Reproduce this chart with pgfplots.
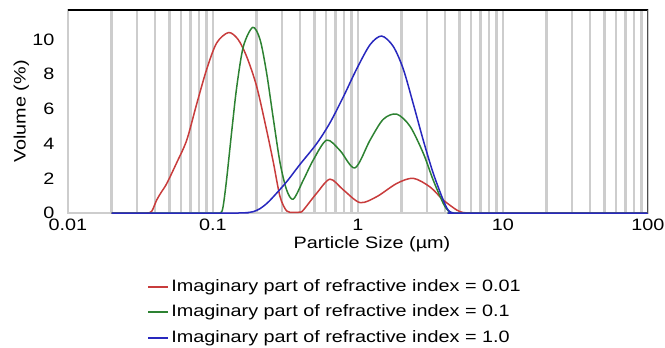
\documentclass[border=0pt]{standalone}
\usepackage{pgfplots}
\pgfplotsset{compat=1.18}
\usepackage{fontspec}
\setmainfont{Liberation Sans}[FakeStretch=1.2]
\definecolor{cred}{RGB}{200,60,60}
\definecolor{cgreen}{RGB}{45,130,50}
\definecolor{cblue}{RGB}{40,40,190}
\definecolor{cgrid}{RGB}{205,205,205}
\begin{document}
\fontsize{16.5}{19}\selectfont
\begin{tikzpicture}
\useasboundingbox (-68pt,-135pt) rectangle (597pt,213pt);
\begin{axis}[
  scale only axis, width=580pt, height=203pt,
  xmode=log, xmin=0.01, xmax=100, ymin=0, ymax=11.7,
  xtick={0.01,0.1,1,10,100},
  xticklabels={0.01,0.1,1,10,100},
  ytick={0,2,4,6,8,10},
  major tick length=0pt, minor tick length=0pt,
  xmajorgrids, xminorgrids,
  grid style={cgrid, line width=2.4pt},
  major grid style={cgrid, line width=2.4pt},
  minor grid style={cgrid, line width=2.4pt},
  axis line style={draw=cgrid, line width=1.5pt},
  tick label style={font=\fontsize{16.5}{19}\selectfont},
  yticklabel style={xshift=-8pt},
  /pgf/number format/assume math mode=true,
  xlabel={Particle Size (µm)},
  ylabel={Volume (\%)},
  label style={font=\fontsize{16.5}{19}\selectfont},
  xlabel style={yshift=5pt, xshift=14pt},
  ylabel style={yshift=-8pt},
  legend style={at={(0.136,-0.317)}, anchor=north west, draw=none, fill=none,
    font=\fontsize{16.5}{19}\selectfont, row sep=7pt, inner sep=0pt},
  legend cell align=left,
  legend image code/.code={\draw[#1, line width=2.2pt] (0pt,0pt) -- (20pt,0pt);},
]
\addplot[cred, line width=1.5pt, smooth, tension=0.5] coordinates {
(0.020,0) (0.030,0) (0.035,0) (0.0378,0.1) (0.0409,0.75) (0.044,1.2) (0.048,1.7) (0.0562,2.9) (0.0659,4.2)
(0.0773,6.3) (0.0906,8.3) (0.106,9.8) (0.128,10.4) (0.149,10.0) (0.171,9.0)
(0.200,7.3) (0.234,4.8) (0.261,2.9) (0.290,0.94) (0.322,0.12) (0.358,0.04)
(0.398,0.05) (0.420,0.17) (0.519,1.14) (0.641,1.95) (0.793,1.33) (1.032,0.6)
(1.346,0.94) (1.848,1.7) (2.404,2.0) (3.14,1.5) (3.87,0.75) (4.80,0.17) (5.3,0.03)
(5.92,0) (7,0) (100,0)};
\addlegendentry{Imaginary part of refractive index = 0.01}
\addplot[cgreen, line width=1.5pt, smooth, tension=0.5] coordinates {
(0.020,0) (0.10,0) (0.112,0) (0.117,0.3) (0.124,1.9) (0.135,4.8) (0.146,7.3) (0.162,9.6)
(0.188,10.7) (0.211,10.0) (0.234,8.1) (0.261,5.4) (0.290,2.9) (0.322,1.33)
(0.358,0.8) (0.420,1.9) (0.492,3.06) (0.608,4.2) (0.752,3.6) (0.953,2.6)
(1.211,4.2) (1.494,5.4) (1.848,5.7) (2.284,5.0) (2.818,3.45) (3.30,1.9)
(3.87,0.56) (4.2,0.12) (4.54,0) (5.2,0) (100,0)};
\addlegendentry{Imaginary part of refractive index = 0.1}
\addplot[cblue, line width=1.5pt, smooth, tension=0.5] coordinates {
(0.020,0) (0.150,0) (0.17,0.02) (0.19,0.08) (0.211,0.25) (0.235,0.55) (0.261,0.94) (0.322,1.8) (0.398,2.8)
(0.519,4.0) (0.641,5.2) (0.793,6.7) (0.979,8.3) (1.211,9.7) (1.456,10.2)
(1.751,9.6) (2.052,8.3) (2.404,6.3) (2.818,4.2) (3.30,2.3) (3.87,0.75)
(4.2,0.15) (4.54,0) (5.2,0) (100,0)};
\addlegendentry{Imaginary part of refractive index = 1.0}
\draw[black, line width=1.5pt] (rel axis cs:0,1) -- (rel axis cs:1,1);
\draw[black!70, line width=1.5pt] (rel axis cs:1,0) -- (rel axis cs:1,1);
\end{axis}
\end{tikzpicture}
\end{document}
